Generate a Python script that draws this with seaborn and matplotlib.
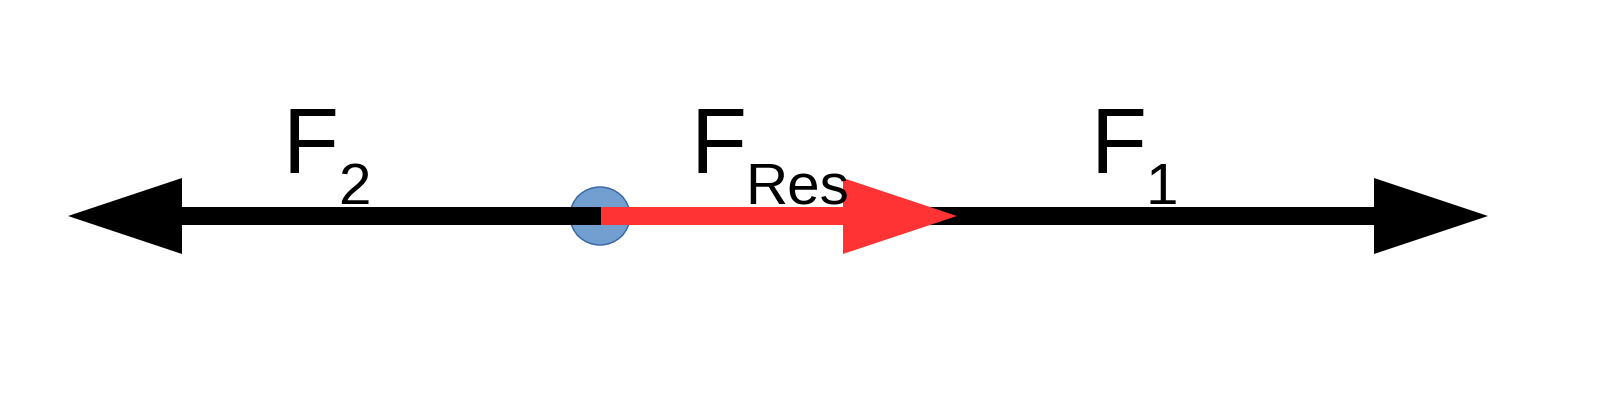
import matplotlib.pyplot as plt
import matplotlib
import seaborn as sns
from matplotlib.patches import Ellipse

# Force diagram: positions along the line of action (pixel units)
origin = 600
force_names = ["F1", "F2", "FRes"]
force_tips = [1488, 68, 957]
force_colors = ["black", "black", "#ff3333"]
label_main = ["F", "F", "F"]
label_sub = ["1", "2", "Res"]
label_x = [1090, 283, 690]

sns.set_theme(style="white")
matplotlib.rcParams["font.family"] = ["Liberation Sans", "DejaVu Sans"]

fig = plt.figure(figsize=(16.23, 4.08), dpi=100)
ax = fig.add_axes([0, 0, 1, 1])
ax.set_xlim(0, 1623)
ax.set_ylim(408, 0)
ax.axis("off")

y0 = 216
# body
ax.add_patch(Ellipse((origin, y0), 60, 58, facecolor="#729fcf", edgecolor="#3465a4", lw=1, zorder=1))

for name, tip, col in zip(force_names, force_tips, force_colors):
    start = origin + (1 if name == "FRes" else -3 if tip > origin else -3)
    ax.arrow(start, y0, tip - start, 0, width=18, head_width=76, head_length=114,
             length_includes_head=True, color=col, lw=0,
             zorder=3 if name == "FRes" else 2)

# labels
for m, s, x in zip(label_main, label_sub, label_x):
    ax.text(x, 173, m, fontsize=66, color="black", va="baseline", ha="left")
    ax.text(x + 55, 204, s, fontsize=42, color="black", va="baseline", ha="left")

plt.savefig("out.png", dpi=100)
